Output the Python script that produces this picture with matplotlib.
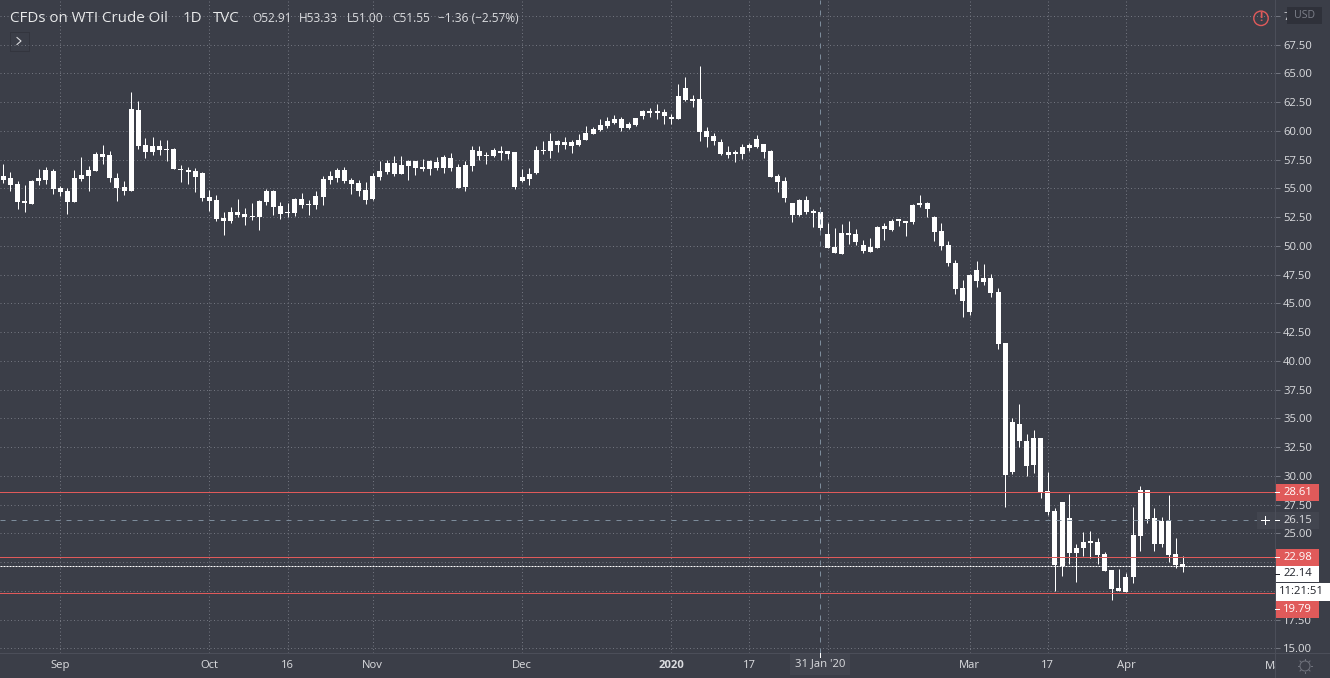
import matplotlib
matplotlib.use("Agg")
import matplotlib.pyplot as plt
from matplotlib.patches import Rectangle, Circle
from matplotlib.transforms import Bbox

# candle values: high, top of body, bottom of body, low
highs = [57.12,56.42,55.64,55.29,55.72,56.68,56.86,56.68,55.20,55.03,56.59,57.73,56.94,58.16,58.77,58.25,56.33,55.64,63.38,62.59,
 59.38,59.46,59.20,59.20,58.51,57.03,56.86,56.77,56.42,54.86,54.42,52.94,53.38,54.07,53.29,53.72,53.99,54.94,54.86,53.81,
 53.72,54.16,54.59,53.99,54.77,56.07,56.51,56.77,56.86,55.90,55.72,55.55,56.33,57.38,57.46,57.81,57.81,57.46,57.38,57.55,
 57.46,57.73,57.90,58.07,57.12,57.38,58.68,58.68,58.16,58.51,58.68,58.25,58.16,56.68,56.77,58.68,59.12,59.81,59.20,59.46,
 59.20,59.72,60.42,60.33,61.03,61.20,61.38,61.20,60.77,61.12,61.81,61.99,62.33,61.90,61.46,64.07,64.68,63.12,65.64,60.33,
 59.81,59.29,58.68,58.33,58.86,58.94,59.64,58.86,58.33,56.25,55.99,53.72,54.07,54.33,53.20,53.33,51.99,51.55,51.90,52.16,
 51.46,50.51,50.68,51.72,51.99,52.33,52.33,52.16,53.64,54.42,53.81,52.59,51.99,50.42,48.77,47.03,47.55,48.68,48.42,47.55,
 46.33,41.55,35.03,36.25,33.64,33.99,33.29,30.33,27.20,27.72,28.42,24.07,25.12,25.20,24.59,23.38,21.81,21.90,21.55,27.29,
 29.11,28.77,27.20,26.42,28.33,24.59,23.03]
tops = [56.07,55.90,55.38,53.90,55.64,55.90,56.59,56.51,55.03,54.77,55.90,56.16,56.59,57.99,57.99,57.90,55.90,55.12,61.90,61.81,
 58.77,58.68,58.68,58.42,58.42,56.68,56.59,56.51,56.33,54.25,53.99,52.42,52.94,52.94,52.77,52.59,53.90,54.77,54.77,53.46,
 52.94,54.07,54.07,53.64,54.33,55.81,56.07,56.59,56.59,55.72,55.46,54.86,56.07,56.51,57.20,57.20,57.03,57.38,57.38,56.86,
 57.38,57.29,57.73,57.64,56.86,57.03,58.33,58.25,57.90,58.33,58.25,58.25,58.16,55.99,56.25,58.33,58.33,59.12,59.12,59.03,
 59.03,59.20,59.81,60.16,60.51,60.86,61.03,61.03,60.59,61.12,61.72,61.72,61.72,61.64,61.20,63.03,63.73,62.77,62.77,59.99,
 59.55,59.03,58.16,58.16,58.59,58.77,59.29,58.86,58.25,56.07,55.64,53.72,53.99,53.99,53.03,52.91,51.03,49.90,51.12,51.12,
 51.03,50.07,49.90,51.64,51.72,52.16,52.33,52.16,53.55,53.72,53.72,52.51,51.29,50.07,48.51,46.33,47.46,47.90,47.20,47.20,
 45.99,41.55,34.68,34.51,33.03,33.29,33.29,28.68,26.94,27.72,26.33,23.72,24.25,24.33,24.25,23.20,21.81,20.25,21.20,24.85,
 28.77,28.77,26.33,26.07,26.07,23.20,22.33]
bottoms = [55.72,55.29,53.81,53.72,53.64,55.64,55.72,54.94,54.68,53.81,53.81,55.81,56.07,56.51,57.73,55.90,55.03,54.77,54.77,58.68,
 58.16,58.16,58.33,58.33,56.68,56.59,56.42,55.99,54.16,53.90,52.33,52.16,52.16,52.68,52.51,52.51,52.51,53.81,53.38,52.77,
 52.86,52.86,53.55,53.55,53.55,54.25,55.72,55.90,55.64,55.38,54.77,53.99,54.07,55.99,56.42,56.25,56.25,56.94,56.77,56.68,
 56.68,56.77,56.77,56.77,55.03,55.12,56.94,57.81,57.81,57.81,58.07,57.99,55.12,55.64,55.81,56.33,58.25,58.25,58.77,58.77,
 58.68,58.77,59.20,59.72,60.07,60.42,60.68,60.25,60.25,60.51,61.29,61.55,61.55,61.29,61.03,61.03,62.68,62.59,59.90,59.46,
 59.12,57.99,57.90,57.99,57.99,58.51,58.59,58.16,55.99,55.55,54.16,52.68,52.68,52.94,52.86,51.55,49.81,49.38,49.29,50.94,
 50.33,49.55,49.46,49.81,51.46,51.38,52.16,51.99,52.07,53.55,53.20,51.20,49.99,48.51,46.25,45.20,44.25,46.94,46.86,45.90,
 41.46,30.07,30.33,33.03,30.85,30.94,28.59,26.85,22.25,22.16,23.29,23.29,23.72,24.16,23.12,21.72,20.16,19.99,19.90,21.20,
 24.77,26.25,24.07,24.07,23.12,22.25,22.07]
lows = [55.46,54.77,53.20,52.94,53.64,55.29,55.38,54.51,54.33,52.77,53.81,55.64,54.77,56.51,57.12,55.55,53.90,54.42,54.77,58.42,
 57.64,57.90,57.90,57.38,56.68,55.55,55.38,54.68,53.90,53.03,52.16,50.94,51.99,52.51,51.81,52.25,51.38,53.55,52.68,52.33,
 52.51,52.59,53.29,52.68,53.20,53.55,55.38,55.55,55.46,54.51,54.33,53.64,53.99,55.72,56.25,56.07,56.25,55.72,56.16,56.51,
 56.16,56.59,56.33,56.51,55.03,54.77,56.51,57.46,57.12,57.73,57.46,57.55,54.94,55.55,55.29,56.25,57.99,57.64,58.16,58.42,
 58.07,58.68,59.20,59.72,59.99,60.25,60.59,59.99,60.16,60.42,61.03,61.20,61.03,60.59,60.59,61.03,62.59,62.07,59.12,58.59,
 58.77,57.90,57.64,57.29,57.55,58.25,58.51,57.64,55.99,54.68,53.81,52.07,52.59,52.77,51.64,51.00,49.81,49.38,49.29,50.16,
 50.07,49.38,49.46,49.81,50.51,51.29,51.72,50.86,51.90,53.38,52.51,50.42,49.64,48.25,45.81,43.81,43.99,46.42,46.59,45.55,
 41.03,27.29,30.16,32.51,29.99,30.25,28.07,26.59,19.99,21.29,22.33,20.77,23.03,22.85,22.33,21.72,19.20,19.99,19.90,20.68,
 23.46,25.90,23.46,23.81,22.51,21.99,21.64]

time_ticks = [8, 29, 40, 52, 73, 94, 105, 116, 136, 147, 158]
time_labels = ["Sep", "Oct", "16", "Nov", "Dec", "2020", "17", "", "Mar", "17", "Apr"]
price_ticks = [15, 17.5, 20, 22.5, 25, 27.5, 30, 32.5, 35, 37.5, 40, 42.5, 45, 47.5, 50, 52.5, 55, 57.5, 60, 62.5, 65, 67.5, 70]
hidden_price_labels = [20, 22.5]
level_prices = [28.61, 22.98, 19.79]
last_price = 22.14
cross_price = 26.15
cross_idx = 115

BG = "#3b3e48"
GRID = "#71747e"
AXIS = "#4b4e59"
TXT = "#dcdde0"
RED = "#e05a5a"
CROSS = "#7d8c9b"
FONT = "Open Sans"
plt.rcParams["font.family"] = [FONT, "DejaVu Sans"]

W, H = 1330, 678
AX_R, AX_B = 1274.5, 652.7
fig = plt.figure(figsize=(W / 100, H / 100), dpi=100, facecolor=BG)
ax = fig.add_axes([0, 1 - AX_B / H, AX_R / W, AX_B / H], facecolor=BG)
PX = 72 / 100  # points per pixel

n = len(highs)
ax.set_xlim(-0.465, 178.9)
ax.set_ylim(14.62, 71.37)
for s in ax.spines.values():
    s.set_visible(False)

ax.set_yticks(price_ticks)
ax.set_yticklabels(["" if p in hidden_price_labels else f"{p:.2f}" for p in price_ticks])
ax.yaxis.tick_right()
ax.tick_params(axis="y", length=5 * PX, width=1 * PX, color=GRID, pad=3.5 * PX, labelsize=8.1, labelcolor=TXT)
ax.set_xticks(time_ticks)
ax.set_xticklabels(time_labels)
ax.tick_params(axis="x", length=0, pad=7.5 * PX, labelsize=8.1, labelcolor=TXT)
for lab in ax.get_xticklabels():
    if lab.get_text() == "2020":
        lab.set_fontweight("bold")
ax.grid(True, color=GRID, linestyle=(0, (1, 2.5)), linewidth=1 * PX)
ax.set_axisbelow(True)

xs = list(range(n))
ax.vlines(xs, lows, highs, color="white", linewidth=1 * PX, zorder=3)
ax.bar(xs, [t - b for t, b in zip(tops, bottoms)], bottom=bottoms, width=5 / 7.104,
       color="white", linewidth=0, zorder=3)

for p in level_prices:
    ax.axhline(p, color=RED, linewidth=1 * PX, zorder=4)
ax.axhline(last_price, color="white", linewidth=1 * PX, linestyle=(0, (2, 1)), zorder=4)
ax.axhline(cross_price, color=CROSS, linewidth=1 * PX, linestyle=(0, (5, 6)), zorder=4)
ax.axvline(cross_idx, color=CROSS, linewidth=1 * PX, linestyle=(0, (5, 6)), zorder=4)

# overlay in pixel coordinates for the chart furniture
ov = fig.add_axes([0, 0, 1, 1], facecolor="none", zorder=5)
ov.set_xlim(0, W)
ov.set_ylim(H, 0)
ov.axis("off")
ov.plot([0, W], [AX_B, AX_B], color=AXIS, lw=1 * PX)
ov.plot([AX_R, AX_R], [0, H], color=AXIS, lw=1 * PX)

def t(x, y, s, size=8.1, color=TXT, ha="left", **kw):
    return ov.text(x, y, s, fontsize=size, color=color, ha=ha, va="center", **kw)

# legend
t(10, 18, "CFDs on WTI Crude Oil", size=10.9, color="#e8e9ea")
t(183, 18, "1D", size=10.9, color="#e8e9ea")
t(213, 18, "TVC", size=10.9, color="#e8e9ea")
t(252, 19, "O52.91", size=8.6)
t(299, 19, "H53.33", size=8.6)
t(347, 19, "L51.00", size=8.6)
t(392, 19, "C51.55", size=8.6)
t(438, 19, "\u22121.36 (\u22122.57%)", size=8.6)

# collapse button
ov.add_patch(Rectangle((9.5, 32), 19, 19, fc="none", ec="#2c2e36", lw=1 * PX, ls=(0, (1, 1))))
ov.plot([17, 21, 17], [37.5, 41, 44.5], color=TXT, lw=1.1 * PX)

# warning + USD
ov.add_patch(Circle((1261, 18.3), 7.2, fc="none", ec=RED, lw=1.4 * PX))
t(1261, 17.8, "!", size=8.5, color=RED, ha="center", fontweight="bold")
ov.add_patch(Rectangle((1287, 7), 35, 16.5, fc="#2f313a", ec="none"))
t(1304.5, 15, "USD", size=7.6, color="#7d808a", ha="center")

# price labels
def box(y0, y1, s, fc, fg, x0=AX_R, x1=1319, tx=1283, bold=False):
    ov.add_patch(Rectangle((x0, y0), x1 - x0, y1 - y0, fc=fc, ec="none"))
    t(tx, (y0 + y1) / 2, s, color=fg)

box(484, 500.7, f"{level_prices[0]:.2f}", RED, "white")
box(549, 565.7, f"{level_prices[1]:.2f}", RED, "white")
box(566, 582, f"{last_price:.2f}", "white", "#20222a")
box(583.3, 600.7, "11:21:51", "white", "#20222a", x1=1330, tx=1279)
box(601, 617.7, f"{level_prices[2]:.2f}", RED, "white")
box(512, 528.7, f"{cross_price:.2f}", "#42454f", TXT, x0=1256.7)
ov.plot([1261, 1269], [520.3, 520.3], color="white", lw=1 * PX)
ov.plot([1265, 1265], [516.3, 524.3], color="white", lw=1 * PX)
ov.plot([1275, 1279], [520.3, 520.3], color="white", lw=1 * PX)
ov.plot([AX_R, 1279], [574, 574], color="#20222a", lw=1 * PX)
ov.plot([AX_R, 1279], [492, 492], color="white", lw=1 * PX)
ov.plot([AX_R, 1279], [557, 557], color="white", lw=1 * PX)
ov.plot([AX_R, 1279], [609, 609], color="white", lw=1 * PX)

# crosshair date label
ov.add_patch(Rectangle((790, 652.7), 60, 22, fc="#42454f", ec="none"))
t(820, 664, "31 Jan '20", ha="center")
ov.plot([820.3, 820.3], [653, 657], color="white", lw=1 * PX)

# May clipped by the price axis
m = t(1276, 666.5, "May", ha="center")
m.set_clip_on(True)
m.set_clip_box(Bbox([[0, 0], [AX_R, H]]))

# settings gear
ov.add_patch(Circle((1305, 666), 5, fc="none", ec="#70737d", lw=1 * PX))
for dx, dy in [(0, -7), (0, 7), (7, 0), (-7, 0), (5, 5), (-5, 5), (5, -5), (-5, -5)]:
    ov.plot([1305 + dx * 0.8, 1305 + dx], [666 + dy * 0.8, 666 + dy], color="#70737d", lw=1 * PX)

fig.savefig("out.png", dpi=100, facecolor=BG)
